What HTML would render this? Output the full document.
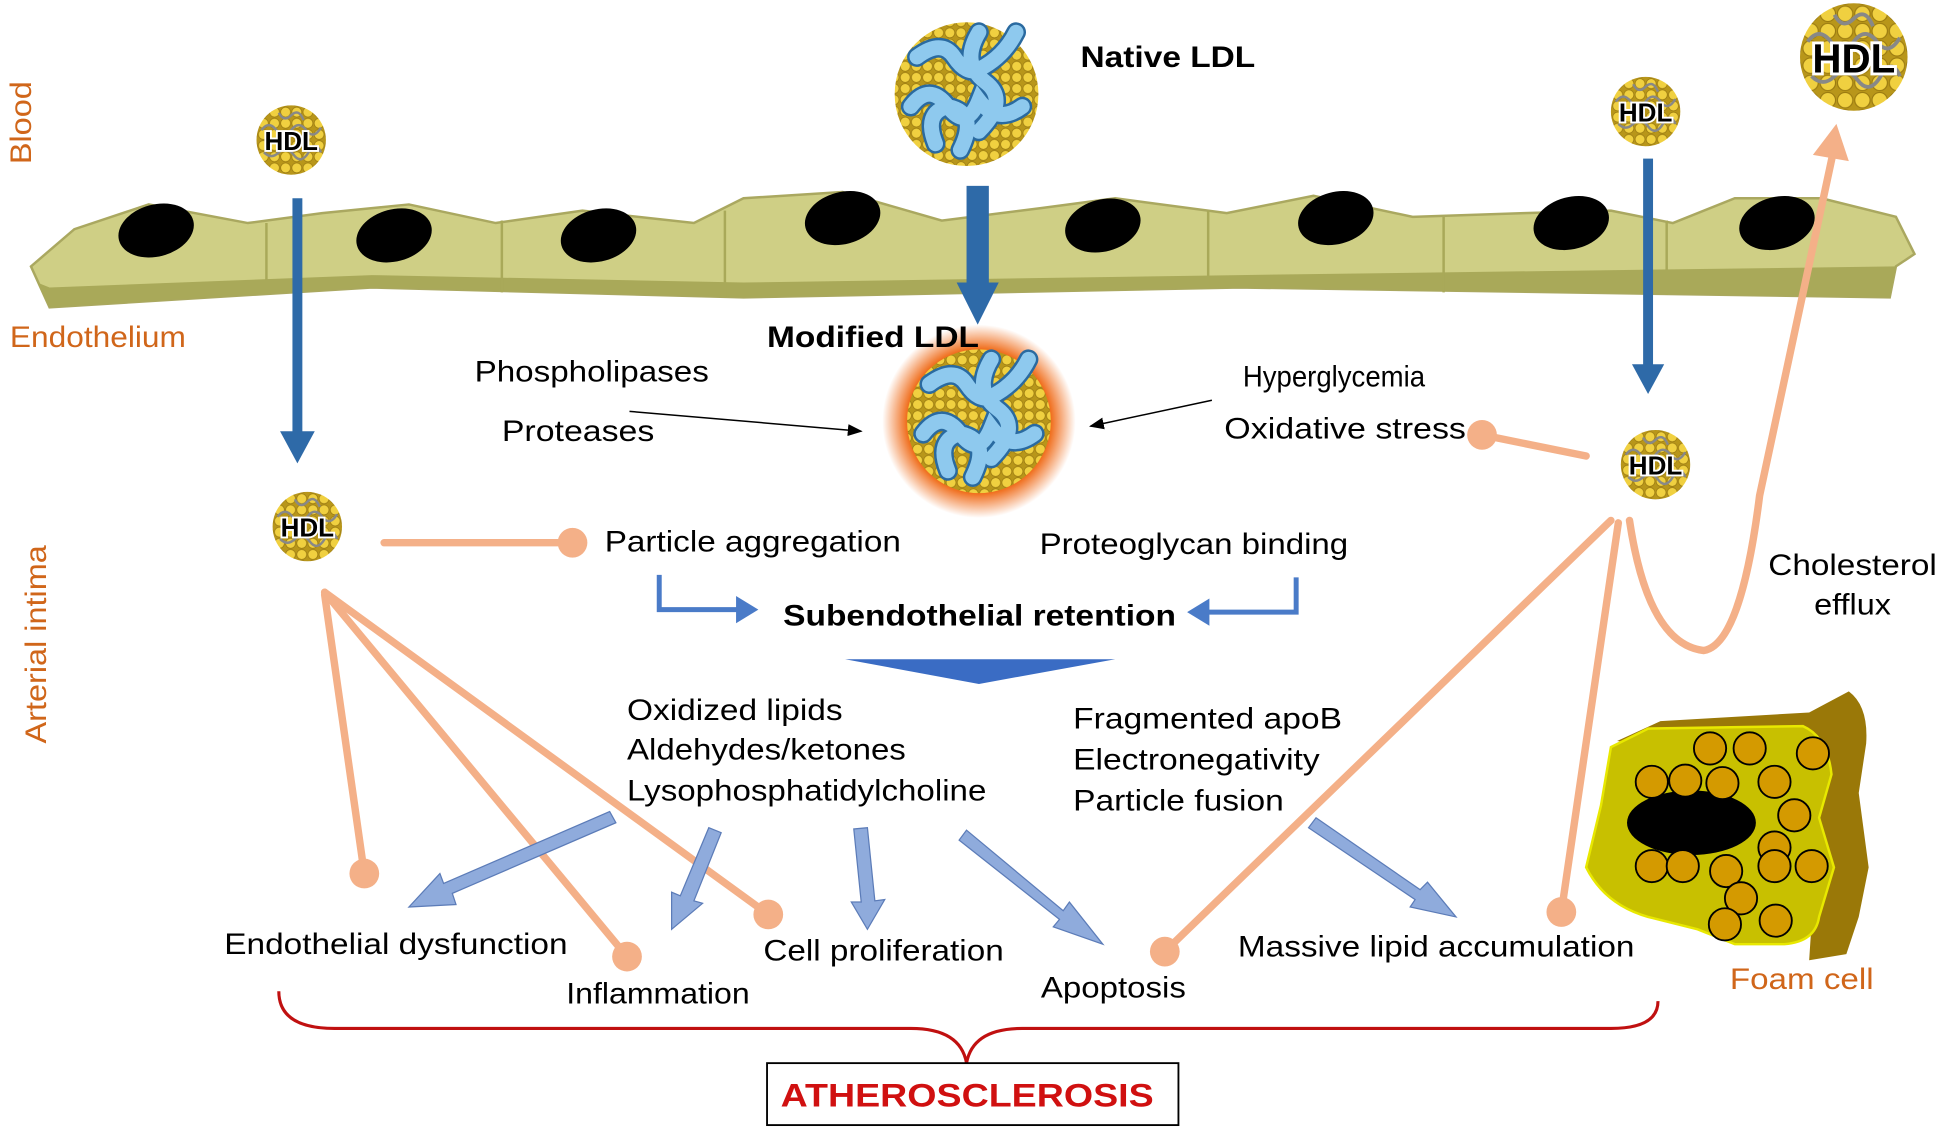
<!DOCTYPE html>
<html><head><meta charset="utf-8"><style>
html,body{margin:0;padding:0;background:#fff;}
svg{display:block;}
text{font-family:"Liberation Sans",Arial,sans-serif;}
</style></head><body>
<svg width="1943" height="1135" viewBox="0 0 1568 916" preserveAspectRatio="none" xmlns="http://www.w3.org/2000/svg">
<defs>
<pattern id="dots" width="9" height="9" patternUnits="userSpaceOnUse">
<rect width="9" height="9" fill="#b8961a"/>
<circle cx="4.5" cy="4.5" r="4" fill="#f0d040" stroke="#9a7a10" stroke-width="0.6"/>
</pattern>
<radialGradient id="glow"><stop offset="0.75" stop-color="#f07020"/><stop offset="1" stop-color="#f07020" stop-opacity="0"/></radialGradient>
<marker id="ah" markerWidth="10" markerHeight="8" refX="9" refY="4" orient="auto"><path d="M0,0 L10,4 L0,8z" fill="#000"/></marker>
<g id="hdl">
<circle r="28" fill="url(#dots)"/>
<path d="M-24,-8 q6,-8 12,0 t12,0 t12,0 t12,-2 M-22,10 q6,6 12,0 t12,2 t12,-2 t10,0 M-10,-22 q4,8 10,2 t10,4" stroke="#888" stroke-width="2" fill="none"/>
<text x="0" y="8" text-anchor="middle" font-size="21" font-weight="bold" fill="#000" stroke="#fff" stroke-width="3" paint-order="stroke">HDL</text>
</g>
<g id="ldl">
<circle r="58" fill="url(#dots)"/>
<path d="M-40,-30 q20,-15 30,0 t20,10 q20,-10 30,-30 M-45,10 q15,-20 30,0 t25,-5 q15,20 35,5 M-25,40 q-10,-25 10,-30 q25,5 10,35 M10,-50 q-15,25 5,40 t-5,40" stroke="#2a6aa0" stroke-width="16" fill="none" stroke-linecap="round"/>
<path d="M-40,-30 q20,-15 30,0 t20,10 q20,-10 30,-30 M-45,10 q15,-20 30,0 t25,-5 q15,20 35,5 M-25,40 q-10,-25 10,-30 q25,5 10,35 M10,-50 q-15,25 5,40 t-5,40" stroke="#8ec9ee" stroke-width="12" fill="none" stroke-linecap="round"/>
</g>
</defs>

<!-- endothelium -->
<path d="M25,215 L60,185 L120,165 L200,180 L260,172 L330,165 L400,180 L470,170 L560,180 L600,160 L680,155 L760,178 L840,168 L900,160 L990,172 L1060,158 L1140,175 L1230,172 L1300,170 L1350,180 L1400,160 L1470,160 L1530,175 L1545,205 L1530,215 L1525,240 L1000,232 L600,240 L300,232 L40,248 Z" fill="#cfcf85" stroke="#aaa860" stroke-width="2"/>
<path d="M30,228 L40,248 L300,232 L600,240 L1000,232 L1525,240 L1530,215 L1000,222 L600,228 L300,222 L40,232 Z" fill="#a9a959"/>
<g stroke="#a9a959" stroke-width="2"><line x1="215" y1="180" x2="215" y2="232"/><line x1="405" y1="178" x2="405" y2="236"/><line x1="585" y1="170" x2="585" y2="240"/><line x1="790" y1="175" x2="790" y2="236"/><line x1="975" y1="170" x2="975" y2="233"/><line x1="1165" y1="175" x2="1165" y2="236"/><line x1="1345" y1="178" x2="1345" y2="238"/></g>
<g fill="#000">
<ellipse cx="126" cy="186" rx="31" ry="21" transform="rotate(-15 126 186)"/>
<ellipse cx="318" cy="190" rx="31" ry="21" transform="rotate(-15 318 190)"/>
<ellipse cx="483" cy="190" rx="31" ry="21" transform="rotate(-15 483 190)"/>
<ellipse cx="680" cy="176" rx="31" ry="21" transform="rotate(-15 680 176)"/>
<ellipse cx="890" cy="182" rx="31" ry="21" transform="rotate(-15 890 182)"/>
<ellipse cx="1078" cy="176" rx="31" ry="21" transform="rotate(-15 1078 176)"/>
<ellipse cx="1268" cy="180" rx="31" ry="21" transform="rotate(-15 1268 180)"/>
<ellipse cx="1434" cy="180" rx="31" ry="21" transform="rotate(-15 1434 180)"/>
</g>

<g font-size="24" lengthAdjust="spacingAndGlyphs">
<text x="25" y="99" fill="#d0661a" text-anchor="middle" transform="rotate(-90 25 99)" textLength="67" lengthAdjust="spacingAndGlyphs">Blood</text>
<text x="8" y="280" fill="#d0661a" textLength="142" lengthAdjust="spacingAndGlyphs">Endothelium</text>
<text x="37" y="520" fill="#d0661a" text-anchor="middle" transform="rotate(-90 37 520)" textLength="160" lengthAdjust="spacingAndGlyphs">Arterial intima</text>
</g>

<!-- blue vertical arrows -->
<g fill="#2e6aa8">
<rect x="236" y="160" width="8" height="190"/><path d="M226,348 L254,348 L240,374z"/>
<rect x="780" y="150" width="18" height="80"/><path d="M772,228 L806,228 L789,262z"/>
<rect x="1326" y="128" width="8" height="168"/><path d="M1317,294 L1343,294 L1330,318z"/>
</g>

<!-- particles -->
<use href="#hdl" x="235" y="113"/>
<use href="#hdl" x="248" y="425"/>
<use href="#hdl" x="1328" y="90"/>
<use href="#hdl" x="1336" y="375"/>
<g transform="translate(1496,46) scale(1.55)"><use href="#hdl"/></g>
<use href="#ldl" x="780" y="76"/>
<circle cx="790" cy="340" r="78" fill="url(#glow)"/>
<use href="#ldl" x="790" y="340"/>

<g font-size="24">
<text x="872" y="54" font-weight="bold" textLength="141" lengthAdjust="spacingAndGlyphs">Native LDL</text>
<text x="619" y="280" font-weight="bold" textLength="171" lengthAdjust="spacingAndGlyphs">Modified  LDL</text>
<text x="383" y="308" textLength="189" lengthAdjust="spacingAndGlyphs">Phospholipases</text>
<text x="405" y="356" textLength="123" lengthAdjust="spacingAndGlyphs">Proteases</text>
<text x="1003" y="312" textLength="147" lengthAdjust="spacingAndGlyphs">Hyperglycemia</text>
<text x="988" y="354" textLength="195" lengthAdjust="spacingAndGlyphs">Oxidative stress</text>
</g>
<line x1="508" y1="332" x2="695" y2="348" stroke="#000" stroke-width="1.2" marker-end="url(#ah)"/>
<line x1="978" y1="323" x2="880" y2="344" stroke="#000" stroke-width="1.2" marker-end="url(#ah)"/>

<!-- salmon lines -->
<g stroke="#f4b088" stroke-width="6" fill="none" stroke-linecap="round">
<line x1="1280" y1="368" x2="1196" y2="351"/>
<line x1="310" y1="438" x2="462" y2="438"/>
<line x1="262" y1="480" x2="294" y2="705"/>
<line x1="262" y1="478" x2="506" y2="772"/>
<line x1="262" y1="478" x2="620" y2="738"/>
<line x1="1300" y1="420" x2="940" y2="768"/>
<line x1="1306" y1="422" x2="1260" y2="736"/>
<path d="M1315,420 Q1330,520 1375,525 Q1405,520 1420,400 L1480,120"/>
</g>
<path d="M1463,125 L1482,100 L1492,130z" fill="#f4b088"/>
<g fill="#f4b088">
<circle cx="1196" cy="351" r="12"/><circle cx="462" cy="438" r="12"/><circle cx="294" cy="705" r="12"/>
<circle cx="506" cy="772" r="12"/><circle cx="620" cy="738" r="12"/><circle cx="940" cy="768" r="12"/><circle cx="1260" cy="736" r="12"/>
</g>

<g font-size="24">
<text x="488" y="445" textLength="239" lengthAdjust="spacingAndGlyphs">Particle aggregation</text>
<text x="839" y="447" textLength="249" lengthAdjust="spacingAndGlyphs">Proteoglycan binding</text>
<text x="1427" y="464" textLength="136" lengthAdjust="spacingAndGlyphs">Cholesterol</text>
<text x="1464" y="496" textLength="62" lengthAdjust="spacingAndGlyphs">efflux</text>
</g>

<!-- bent arrows -->
<g stroke="#4a7bc8" stroke-width="4" fill="none"><path d="M532,464 L532,492 L595,492"/><path d="M1046,466 L1046,494 L975,494"/></g>
<path d="M594,481 L612,492 L594,503z" fill="#4a7bc8"/>
<path d="M976,483 L958,494 L976,505z" fill="#4a7bc8"/>
<text x="632" y="505" font-size="24" font-weight="bold" textLength="317" lengthAdjust="spacingAndGlyphs">Subendothelial retention</text>
<path d="M682,532 L900,532 L790,552z" fill="#3a6cc4"/>

<g font-size="24">
<text x="506" y="581" textLength="174" lengthAdjust="spacingAndGlyphs">Oxidized  lipids</text>
<text x="506" y="613" textLength="225" lengthAdjust="spacingAndGlyphs">Aldehydes/ketones</text>
<text x="506" y="646" textLength="290" lengthAdjust="spacingAndGlyphs">Lysophosphatidylcholine</text>
<text x="866" y="588" textLength="217" lengthAdjust="spacingAndGlyphs">Fragmented  apoB</text>
<text x="866" y="621" textLength="199" lengthAdjust="spacingAndGlyphs">Electronegativity</text>
<text x="866" y="654" textLength="170" lengthAdjust="spacingAndGlyphs">Particle fusion</text>
</g>

<!-- light blue block arrows -->
<g fill="#8fabdc" stroke="#5c7cb8" stroke-width="1">
<path d="M497,664 L365,721 L368,730 L330,732 L355,705 L358,713 L492,655z"/>
<path d="M582,672 L560,727 L567,729 L542,750 L542,720 L549,723 L572,668z"/>
<path d="M700,668 L706,727 L714,726 L700,750 L687,728 L695,728 L689,669z"/>
<path d="M780,670 L858,735 L863,728 L890,762 L850,748 L855,742 L774,678z"/>
<path d="M1062,660 L1146,718 L1152,712 L1175,740 L1138,732 L1142,726 L1056,668z"/>
</g>

<g font-size="24">
<text x="181" y="770" textLength="277" lengthAdjust="spacingAndGlyphs">Endothelial  dysfunction</text>
<text x="457" y="810" textLength="148" lengthAdjust="spacingAndGlyphs">Inflammation</text>
<text x="616" y="775" textLength="194" lengthAdjust="spacingAndGlyphs">Cell proliferation</text>
<text x="840" y="805" textLength="117" lengthAdjust="spacingAndGlyphs">Apoptosis</text>
<text x="999" y="772" textLength="320" lengthAdjust="spacingAndGlyphs">Massive lipid accumulation</text>
</g>

<!-- foam cell -->
<path d="M1305,598 L1340,582 L1460,575 L1492,558 Q1508,570 1506,600 L1500,640 L1508,700 L1500,740 L1490,770 L1460,775 L1470,620 Z" fill="#9a7808"/>
<path d="M1300,603 L1330,588 L1455,586 Q1475,595 1478,625 L1468,660 L1480,700 L1468,740 Q1465,760 1440,762 L1400,762 L1370,750 L1330,740 Q1295,730 1280,700 L1292,650 Z" fill="#c8c000" stroke="#e8e800" stroke-width="2"/>
<ellipse cx="1365" cy="664" rx="52" ry="26" fill="#000"/>
<g fill="#d49a00" stroke="#000" stroke-width="1.5">
<circle cx="1380" cy="604" r="13"/><circle cx="1412" cy="604" r="13"/><circle cx="1463" cy="608" r="13"/>
<circle cx="1333" cy="631" r="13"/><circle cx="1360" cy="630" r="13"/><circle cx="1390" cy="632" r="13"/><circle cx="1432" cy="631" r="13"/>
<circle cx="1448" cy="658" r="13"/><circle cx="1432" cy="684" r="13"/>
<circle cx="1333" cy="699" r="13"/><circle cx="1358" cy="699" r="13"/><circle cx="1393" cy="703" r="13"/><circle cx="1432" cy="699" r="13"/><circle cx="1462" cy="699" r="13"/>
<circle cx="1405" cy="725" r="13"/><circle cx="1392" cy="746" r="13"/><circle cx="1433" cy="743" r="13"/>
</g>
<text x="1396" y="798" font-size="24" fill="#d0661a" textLength="116" lengthAdjust="spacingAndGlyphs">Foam cell</text>

<!-- brace -->
<path d="M225,800 Q225,830 270,830 L735,830 Q775,830 780,858 Q785,830 825,830 L1300,830 Q1338,830 1338,808" stroke="#c01010" stroke-width="2.5" fill="none"/>
<rect x="619" y="858" width="332" height="50" fill="#fff" stroke="#000" stroke-width="1.5"/>
<text x="630" y="893" font-size="26" font-weight="bold" fill="#d01010" textLength="301" lengthAdjust="spacingAndGlyphs">ATHEROSCLEROSIS</text>
</svg>
</body></html>
